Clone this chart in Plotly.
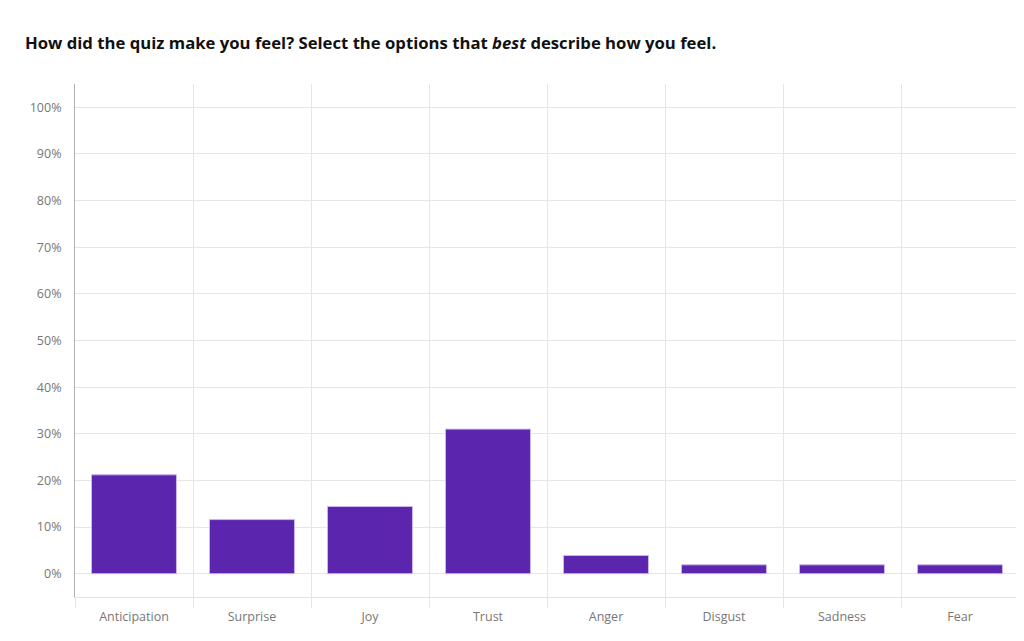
import plotly.graph_objects as go

emotions = ["Anticipation", "Surprise", "Joy", "Trust", "Anger", "Disgust", "Sadness", "Fear"]
percent = [21.2, 11.6, 14.4, 31.0, 3.9, 1.9, 1.9, 1.9]
y_ticks = list(range(0, 101, 10))

fig = go.Figure()
fig.add_trace(go.Bar(
    x=emotions,
    y=percent,
    width=0.72,
    marker=dict(color="#5b25ae", line=dict(color="#cbb6f0", width=1)),
    hoverinfo="x+y",
))

# page body has an 8px margin, so the figure is a bit smaller and shifted
fig.update_layout(
    width=1016,
    height=633,
    paper_bgcolor="white",
    plot_bgcolor="white",
    margin=dict(l=67, r=5, t=76, b=44),
    font=dict(family="'Open Sans', sans-serif", color="#777777", size=12),
    title=dict(
        text="<b>How did the quiz make you feel? Select the options that <i>best</i> describe how you feel.</b>",
        x=17 / 1016, xanchor="left", xref="container",
        y=1 - 35 / 633, yanchor="middle", yref="container",
        font=dict(size=16.7, color="#111111", family="'Open Sans', sans-serif"),
    ),
    showlegend=False,
)

fig.update_xaxes(
    tickson="boundaries",
    showgrid=True,
    gridcolor="#e6e6e6",
    gridwidth=1,
    ticks="outside",
    ticklen=10,
    tickcolor="#e6e6e6",
    showline=True,
    linecolor="#e3e3e3",
    ticklabelstandoff=8,
    tickfont=dict(size=12.5, color="#777777"),
    fixedrange=True,
)
fig.update_yaxes(
    range=[-5, 105],
    tickvals=y_ticks,
    ticktext=[f"{v}%" for v in y_ticks],
    showgrid=True,
    gridcolor="#e6e6e6",
    gridwidth=1,
    zeroline=False,
    showline=True,
    linecolor="#b0b0b0",
    ticks="",
    ticklabelstandoff=10,
    tickfont=dict(size=12.5, color="#777777"),
    fixedrange=True,
)

fig.write_html("out.html", config={"displayModeBar": False})
